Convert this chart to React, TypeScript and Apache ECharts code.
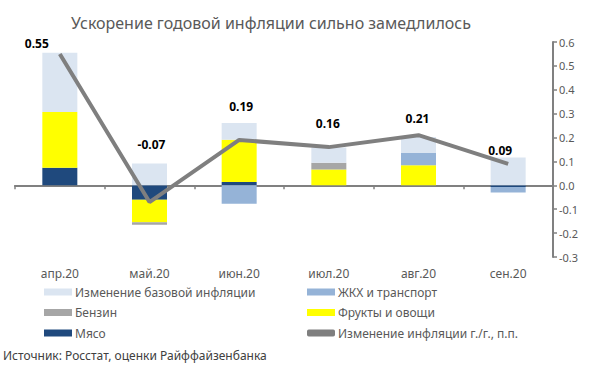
import React, { useEffect, useRef } from "react";
import * as echarts from "echarts";

const categories = ["апр.20", "май.20", "июн.20", "июл.20", "авг.20", "сен.20"];
const meat = [0.074, -0.06, 0.014, 0, 0, -0.007];
const fruit = [0.233, -0.095, 0.177, 0.066, 0.084, 0];
const petrol = [0, -0.01, 0, 0.029, 0, 0];
const housing = [0, 0, -0.077, 0, 0.051, -0.023];
const core = [0.248, 0.091, 0.07, 0.063, 0.067, 0.116];
const inflationChange = [0.55, -0.07, 0.19, 0.16, 0.21, 0.09];
const yTicks = { min: -0.3, max: 0.6, step: 0.1 };

const names = {
  core: "Изменение базовой инфляции",
  housing: "ЖКХ и транспорт",
  petrol: "Бензин",
  fruit: "Фрукты и овощи",
  meat: "Мясо",
  line: "Изменение инфляции г./г., п.п.",
};

const labelOffsets = [
  [-23, 1],
  [2, -47],
  [2, -22],
  [-1, -13],
  [-1, -6],
  [-8, -2],
];

const FONT = "'Noto Sans', sans-serif";

export default function App() {
  const ref = useRef<HTMLDivElement>(null);
  useEffect(() => {
    if (!ref.current) return;
    const chart = echarts.init(ref.current, undefined, { renderer: "svg" });
    const bar = (name: string, data: number[], color: string) => ({
      name,
      type: "bar",
      stack: "total",
      data,
      barWidth: 35,
      xAxisIndex: 0,
      itemStyle: { color },
      emphasis: { disabled: true },
    });
    chart.setOption({
      animation: false,
      textStyle: { fontFamily: FONT },
      title: {
        text: "Ускорение годовой инфляции сильно замедлилось",
        left: 266,
        textAlign: "center",
        top: 10,
        textStyle: { fontFamily: FONT, fontSize: 16, fontWeight: "normal", color: "#595959" },
      },
      graphic: [
        {
          type: "text",
          left: 3,
          top: 349,
          style: {
            text: "Источник: Росстат, оценки Райффайзенбанка",
            font: `12px ${FONT}`,
            fill: "#404040",
          },
        },
      ],
      legend: [
        {
          orient: "vertical",
          left: 39,
          top: 281,
          itemWidth: 28,
          itemHeight: 7,
          itemGap: 8.5,
          icon: "rect",
          data: [names.core, names.petrol, names.meat],
          textStyle: { fontFamily: FONT, fontSize: 12, color: "#595959", padding: [0, 0, 0, -2] },
          selectedMode: false,
        },
        {
          orient: "vertical",
          left: 302,
          top: 281,
          itemWidth: 28,
          itemHeight: 7,
          itemGap: 8.5,
          icon: "rect",
          data: [names.housing, names.fruit, { name: names.line, icon: "roundRect" }],
          textStyle: { fontFamily: FONT, fontSize: 12, color: "#595959", padding: [0, 0, 0, -2] },
          selectedMode: false,
        },
      ],
      grid: { left: 15, right: 47, top: 42, bottom: 111 },
      xAxis: [
        {
          type: "category",
          data: categories,
          axisLine: { onZero: true, lineStyle: { color: "#808080", width: 2 } },
          axisTick: { show: true, length: 4, lineStyle: { color: "#808080", width: 1.5 } },
          axisLabel: { show: false },
        },
        {
          type: "category",
          data: categories,
          position: "bottom",
          axisLine: { show: false, onZero: false },
          axisTick: { show: false },
          axisLabel: { fontFamily: FONT, fontSize: 12, color: "#595959", margin: 10 },
        },
      ],
      yAxis: {
        type: "value",
        position: "right",
        min: yTicks.min,
        max: yTicks.max,
        interval: yTicks.step,
        splitLine: { show: false },
        axisLine: { show: true, lineStyle: { color: "#808080", width: 2 } },
        axisTick: { show: true, length: 4, lineStyle: { color: "#808080", width: 1.5 } },
        axisLabel: {
          fontFamily: FONT,
          fontSize: 11,
          color: "#595959",
          margin: 6,
          formatter: (v: number) => (Math.abs(v) < 1e-9 ? "0.0" : v.toFixed(1)),
        },
      },
      series: [
        bar(names.meat, meat, "#1f497d"),
        bar(names.fruit, fruit, "#ffff00"),
        bar(names.petrol, petrol, "#a6a6a6"),
        bar(names.housing, housing, "#95b3d7"),
        bar(names.core, core, "#dbe5f1"),
        {
          name: names.line,
          type: "line",
          xAxisIndex: 0,
          data: inflationChange.map((v, i) => ({
            value: v,
            label: { offset: labelOffsets[i] },
          })),
          showSymbol: true,
          symbol: "circle",
          symbolSize: 0.01,
          lineStyle: { color: "#7f7f7f", width: 4 },
          itemStyle: { color: "#7f7f7f" },
          emphasis: { disabled: true },
          label: {
            show: true,
            position: "top",
            distance: 5,
            fontFamily: FONT,
            fontSize: 12,
            fontWeight: "bold",
            color: "#000",
            formatter: (p: any) => Number(p.value).toFixed(2),
          },
          z: 10,
        },
      ],
    });
    return () => chart.dispose();
  }, []);
  return <div ref={ref} style={{ width: 600, height: 368, position: "absolute", left: 0, top: 0 }} />;
}
